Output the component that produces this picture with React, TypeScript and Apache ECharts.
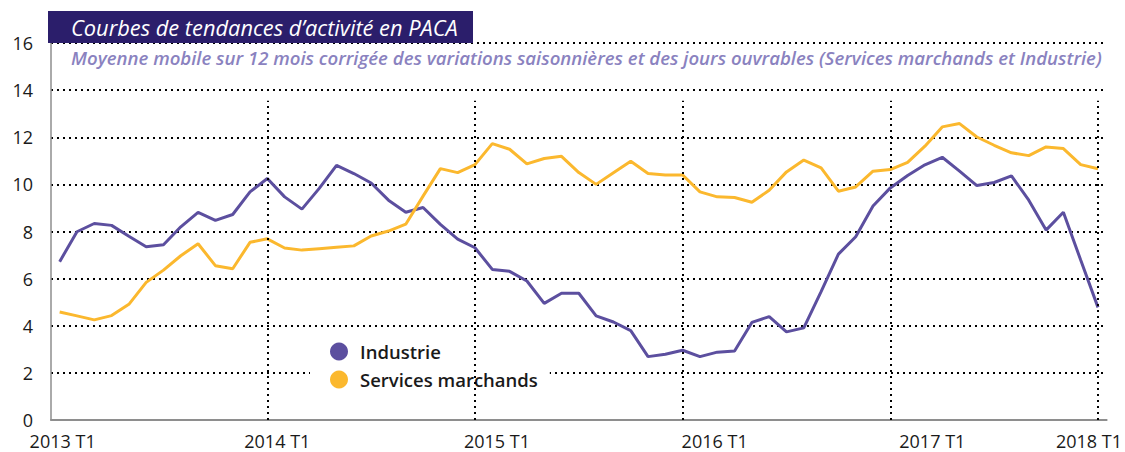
import React, { useEffect, useRef } from "react";
import * as echarts from "echarts";

const years = ["2013", "2014", "2015", "2016", "2017"];
const monthCodes = ["01", "02", "03", "04", "05", "06", "07", "08", "09", "10", "11", "12"];
const categories: string[] = [];
years.forEach((y) => monthCodes.forEach((m) => categories.push(`${y}-${m}`)));
categories.push("2018-01");

const tickLabels = ["2013 T1", "2014 T1", "2015 T1", "2016 T1", "2017 T1", "2018 T1"];
const yearStartIdx = [12, 24, 36, 48, 60];

const industrie = [
  6.72, 7.99, 8.34, 8.26, 7.8, 7.35, 7.44, 8.2, 8.81, 8.47, 8.72, 9.68,
  10.25, 9.47, 8.95, 9.83, 10.81, 10.46, 10.06, 9.33, 8.82, 9.02, 8.3, 7.68,
  7.31, 6.39, 6.31, 5.9, 4.95, 5.38, 5.38, 4.42, 4.16, 3.79, 2.69, 2.79,
  2.96, 2.69, 2.88, 2.93, 4.14, 4.39, 3.74, 3.91, 5.45, 7.04, 7.78, 9.08,
  9.85, 10.38, 10.83, 11.15, 10.56, 9.95, 10.08, 10.36, 9.33, 8.06, 8.82, 6.79,
  4.78,
];

const services = [
  4.58, 4.42, 4.25, 4.43, 4.91, 5.84, 6.36, 6.97, 7.48, 6.55, 6.42, 7.54,
  7.69, 7.3, 7.21, 7.27, 7.33, 7.39, 7.81, 8.02, 8.31, 9.5, 10.67, 10.5,
  10.84, 11.73, 11.49, 10.87, 11.1, 11.19, 10.5, 10.0, 10.49, 10.98, 10.46, 10.4,
  10.4, 9.68, 9.47, 9.44, 9.24, 9.75, 10.53, 11.03, 10.7, 9.71, 9.89, 10.56,
  10.63, 10.93, 11.62, 12.44, 12.58, 12.01, 11.66, 11.34, 11.22, 11.59, 11.52, 10.84,
  10.66,
];

const seriesNames = ["Industrie", "Services marchands"];
const title = "Courbes de tendances d’activité en PACA";
const subtitle =
  "Moyenne mobile sur 12 mois corrigée des variations saisonnières et des jours ouvrables (Services marchands et Industrie)";

const vLineTop = 13.55;
// horizontal label nudges (px) to mimic the reference's label placement
const labelShift = [3, 10, 22, 32, 42, -9];

const PURPLE = "#5c4f9f";
const ORANGE = "#fbb82e";
const FONT = "'Open Sans', 'DejaVu Sans', sans-serif";

export default function App() {
  const ref = useRef<HTMLDivElement>(null);

  useEffect(() => {
    if (!ref.current) return;
    const chart = echarts.init(ref.current, undefined, { renderer: "svg" });

    const rich: Record<string, any> = {};
    labelShift.forEach((s, k) => {
      rich["l" + k] = {
        fontFamily: FONT,
        fontSize: 18,
        color: "#1a1a1a",
        padding: s >= 0 ? [0, 0, 0, 2 * s] : [0, -2 * s, 0, 0],
      };
    });

    const option: any = {
      animation: false,
      backgroundColor: "#ffffff",
      grid: { left: 51, right: 17, top: 43, bottom: 32, containLabel: false },
      xAxis: {
        type: "category",
        data: categories,
        boundaryGap: true,
        axisLine: { show: true, lineStyle: { color: "#8e8e8e", width: 2 } },
        axisTick: { show: false },
        splitLine: { show: false },
        axisLabel: {
          interval: 11,
          margin: 12,
          fontFamily: FONT,
          fontSize: 18,
          color: "#1a1a1a",
          formatter: (_v: string, idx: number) => {
            if (idx % 12 !== 0) return "";
            const k = idx / 12;
            return `{l${k}|${tickLabels[k]}}`;
          },
          rich,
        },
      },
      yAxis: {
        type: "value",
        min: 0,
        max: 16,
        interval: 2,
        axisLine: { show: true, lineStyle: { color: "#8e8e8e", width: 1.5 } },
        axisTick: { show: false },
        axisLabel: {
          margin: 18,
          fontFamily: FONT,
          fontSize: 18,
          color: "#1a1a1a",
          padding: [0, 0, 8, 0],
        },
        splitLine: {
          show: true,
          lineStyle: { color: "#000", width: 2, type: [2, 4] },
        },
      },
      legend: {
        data: seriesNames,
        orient: "vertical",
        left: 310,
        top: 333,
        backgroundColor: "#ffffff",
        padding: [9, 12, 10, 20],
        itemWidth: 18,
        itemHeight: 18,
        itemGap: 9,
        icon: "circle",
        textStyle: {
          fontFamily: FONT,
          fontSize: 18.5,
          fontWeight: 600,
          color: "#1a1a1a",
          padding: [0, 0, 0, 7],
        },
      },
      series: [
        {
          name: seriesNames[0],
          type: "line",
          data: industrie,
          symbol: "none",
          color: PURPLE,
          lineStyle: { width: 3, color: PURPLE },
          z: 3,
          markLine: {
            silent: true,
            symbol: "none",
            label: { show: false },
            lineStyle: { color: "#000", width: 2, type: [2, 4] },
            data: yearStartIdx.map((i) => [
              { coord: [categories[i], 0] },
              { coord: [categories[i], vLineTop] },
            ]),
          },
        },
        {
          name: seriesNames[1],
          type: "line",
          data: services,
          symbol: "none",
          color: ORANGE,
          lineStyle: { width: 3, color: ORANGE },
          z: 3,
        },
      ],
      graphic: [
        {
          type: "rect",
          z: 10,
          shape: { x: 48, y: 11, width: 425, height: 32 },
          style: { fill: "#2b1e6b" },
        },
        {
          type: "text",
          z: 11,
          x: 71,
          y: 27,
          style: {
            text: title,
            fill: "#ffffff",
            font: `italic 400 21.8px ${FONT}`,
            verticalAlign: "middle",
          },
        },
        {
          type: "text",
          z: 11,
          x: 71,
          y: 57,
          style: {
            text: subtitle,
            fill: "#8a82bf",
            font: `italic 600 18.6px ${FONT}`,
            verticalAlign: "middle",
          },
        },
      ],
    };

    chart.setOption(option);
    return () => chart.dispose();
  }, []);

  return (
    <div
      ref={ref}
      style={{ position: "absolute", left: 0, top: 0, width: 1125, height: 452 }}
    />
  );
}
